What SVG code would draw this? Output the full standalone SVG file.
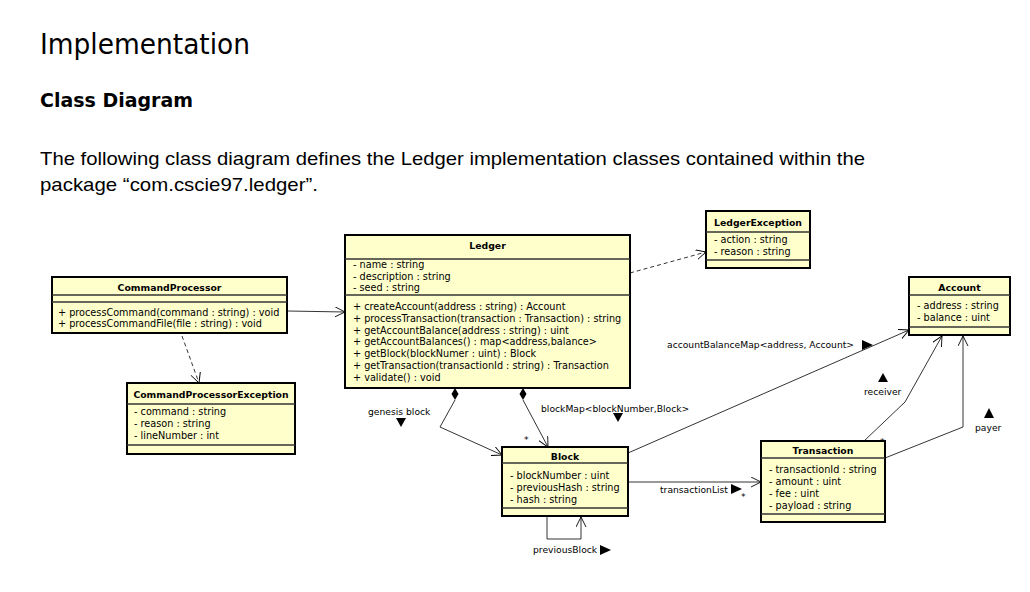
<svg xmlns="http://www.w3.org/2000/svg" width="1030" height="592" viewBox="0 0 1030 592">
<defs>
<style>
.bg{fill:#fff}
.box{fill:#FFFFCC;stroke:#000;stroke-width:2}
.sep{stroke:#333;stroke-width:1.5}
.t{font-family:"DejaVu Sans",Verdana,sans-serif;font-size:9.7px;fill:#000}
.lb{font-family:"DejaVu Sans",Verdana,sans-serif;font-size:9.2px;fill:#000}
.tb{font-family:"DejaVu Sans",Verdana,sans-serif;font-size:9.3px;font-weight:bold;text-anchor:middle;fill:#000}
.ln{fill:none;stroke:#000;stroke-width:0.8}
.dash{stroke-dasharray:4,3}
.tri{fill:#000}
.h1{font-family:"DejaVu Sans",Tahoma,sans-serif;font-size:29px;fill:#000}
.h2{font-family:"DejaVu Sans",Tahoma,sans-serif;font-size:20px;font-weight:bold;fill:#000}
.p{font-family:"Liberation Sans",Arial,sans-serif;font-size:19px;fill:#000}
</style>
<marker id="open" markerUnits="userSpaceOnUse" markerWidth="12" markerHeight="12" refX="10" refY="5" orient="auto">
<path d="M0,0 L10,5 L0,10" fill="none" stroke="#000" stroke-width="0.9"/>
</marker>
</defs>
<rect class="bg" x="0" y="0" width="1030" height="592"/>

<g id="heading">
<text class="h1" x="40" y="54" textLength="210" lengthAdjust="spacingAndGlyphs">Implementation</text>
<text class="h2" x="40" y="107" textLength="153" lengthAdjust="spacingAndGlyphs">Class Diagram</text>
<text class="p" x="40" y="165" textLength="825" lengthAdjust="spacingAndGlyphs">The following class diagram defines the Ledger implementation classes contained within the</text>
<text class="p" x="40" y="191" textLength="278" lengthAdjust="spacingAndGlyphs">package “com.cscie97.ledger”.</text>
</g>

<g id="connectors">
<path class="ln" d="M288,311 L345,312" marker-end="url(#open)"/>
<path class="ln dash" d="M182,336 L199,383" marker-end="url(#open)"/>
<path class="ln dash" d="M630,273 L706,252" marker-end="url(#open)"/>
<polygon class="tri" points="455,388 458.5,394 455,400 451.5,394"/>
<path class="ln" d="M455,400 L440,427 L502,455" marker-end="url(#open)"/>
<polygon class="tri" points="523,388 526.5,394 523,400 519.5,394"/>
<path class="ln" d="M523,400 L548,447" marker-end="url(#open)"/>
<path class="ln" d="M547,516 L547,539 L581,539 L581,517" marker-end="url(#open)"/>
<path class="ln" d="M628,453 L909,330" marker-end="url(#open)"/>
<path class="ln" d="M628,482 L761,482" marker-end="url(#open)"/>
<path class="ln" d="M864,441 L905,402 L942,336" marker-end="url(#open)"/>
<path class="ln" d="M885,458 L963,427 L963,336" marker-end="url(#open)"/>

<text class="lb" x="368" y="415">genesis block</text>
<polygon class="tri" points="396,418 406,418 401,427"/>
<text class="lb" x="541" y="412">blockMap&lt;blockNumber,Block&gt;</text>
<polygon class="tri" points="613,413 623,413 618,422"/>
<text class="lb" x="524" y="443">*</text>
<text class="lb" x="667" y="348">accountBalanceMap&lt;address, Account&gt;</text>
<polygon class="tri" points="862,340 873,345 862,350"/>
<text class="lb" x="864" y="395">receiver</text>
<polygon class="tri" points="878,382 883,373 888,382"/>
<text class="lb" x="880" y="445">*</text>
<text class="lb" x="975" y="431">payer</text>
<polygon class="tri" points="984,418 989,408 994,418"/>
<text class="lb" x="660" y="493">transactionList</text>
<polygon class="tri" points="731,484 742,489 731,494"/>
<text class="lb" x="741" y="500">*</text>
<text class="lb" x="533" y="553">previousBlock</text>
<polygon class="tri" points="600,545 611,550 600,555"/>
</g>

<g id="Ledger">
<rect class="box" x="345" y="235" width="285" height="153"/>
<line class="sep" x1="345" y1="259" x2="630" y2="259"/>
<line class="sep" x1="345" y1="295" x2="630" y2="295"/>
<text class="tb" x="487.5" y="249">Ledger</text>
<text class="t" x="353" y="268">- name : string</text>
<text class="t" x="353" y="279.5">- description : string</text>
<text class="t" x="353" y="291">- seed : string</text>
<text class="t" x="353" y="310">+ createAccount(address : string) : Account</text>
<text class="t" x="353" y="322">+ processTransaction(transaction : Transaction) : string</text>
<text class="t" x="353" y="333.5">+ getAccountBalance(address : string) : uint</text>
<text class="t" x="353" y="345">+ getAccountBalances() : map&lt;address,balance&gt;</text>
<text class="t" x="353" y="357">+ getBlock(blockNumer : uint) : Block</text>
<text class="t" x="353" y="369">+ getTransaction(transactionId : string) : Transaction</text>
<text class="t" x="353" y="381">+ validate() : void</text>
</g>

<g id="CommandProcessor">
<rect class="box" x="52" y="277" width="235" height="56"/>
<line class="sep" x1="52" y1="295" x2="287" y2="295"/>
<line class="sep" x1="52" y1="302" x2="287" y2="302"/>
<text class="tb" x="169.5" y="291">CommandProcessor</text>
<text class="t" x="58" y="316">+ processCommand(command : string) : void</text>
<text class="t" x="58" y="327">+ processCommandFile(file : string) : void</text>
</g>

<g id="CommandProcessorException">
<rect class="box" x="127" y="383" width="168" height="71"/>
<line class="sep" x1="127" y1="404" x2="295" y2="404"/>
<line class="sep" x1="127" y1="445" x2="295" y2="445"/>
<text class="tb" x="211" y="398">CommandProcessorException</text>
<text class="t" x="134" y="415">- command : string</text>
<text class="t" x="134" y="427">- reason : string</text>
<text class="t" x="134" y="439">- lineNumber : int</text>
</g>

<g id="LedgerException">
<rect class="box" x="706" y="211" width="104" height="57"/>
<line class="sep" x1="706" y1="232" x2="810" y2="232"/>
<line class="sep" x1="706" y1="260" x2="810" y2="260"/>
<text class="tb" x="758" y="225.5">LedgerException</text>
<text class="t" x="714" y="242.5">- action : string</text>
<text class="t" x="714" y="254.5">- reason : string</text>
</g>

<g id="Account">
<rect class="box" x="909" y="277" width="101" height="58"/>
<line class="sep" x1="909" y1="295" x2="1010" y2="295"/>
<line class="sep" x1="909" y1="327" x2="1010" y2="327"/>
<text class="tb" x="959.5" y="290.5">Account</text>
<text class="t" x="917" y="308.5">- address : string</text>
<text class="t" x="917" y="320.5">- balance : uint</text>
</g>

<g id="Block">
<rect class="box" x="502" y="447" width="126" height="69"/>
<line class="sep" x1="502" y1="463" x2="628" y2="463"/>
<line class="sep" x1="502" y1="508" x2="628" y2="508"/>
<text class="tb" x="565" y="459.5">Block</text>
<text class="t" x="510" y="478.5">- blockNumber : uint</text>
<text class="t" x="510" y="490.5">- previousHash : string</text>
<text class="t" x="510" y="502.5">- hash : string</text>
</g>

<g id="Transaction">
<rect class="box" x="761" y="441" width="124" height="81"/>
<line class="sep" x1="761" y1="458" x2="885" y2="458"/>
<line class="sep" x1="761" y1="514" x2="885" y2="514"/>
<text class="tb" x="823" y="453.5">Transaction</text>
<text class="t" x="769" y="473">- transactionId : string</text>
<text class="t" x="769" y="484.5">- amount : uint</text>
<text class="t" x="769" y="496.5">- fee : uint</text>
<text class="t" x="769" y="508.5">- payload : string</text>
</g>
</svg>
